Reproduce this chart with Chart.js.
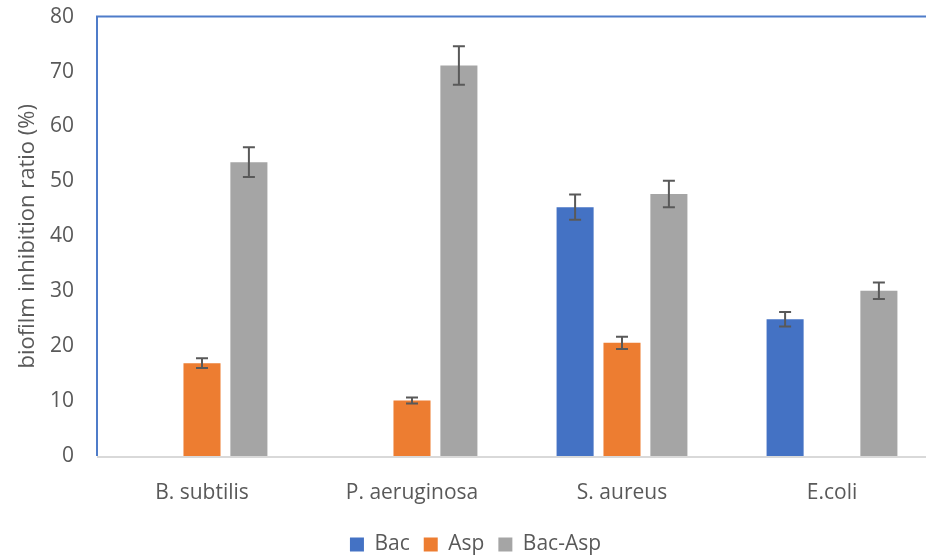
<!DOCTYPE html>
<html>
<head>
<meta charset="utf-8">
<script src="https://cdn.jsdelivr.net/npm/chart.js@4.4.0/dist/chart.umd.min.js"></script>
<style>
  html, body { margin: 0; padding: 0; background: #fff; overflow: hidden; }
  #wrap { width: 952px; height: 576px; margin-top: -11px; }
</style>
</head>
<body>
<div id="wrap"><canvas id="chart" width="952" height="576"></canvas></div>
<script>
// categories and series
const categories = ['B. subtilis', 'P. aeruginosa', 'S. aureus', 'E.coli'];
const bacValues = [0, 0, 45.3, 24.9];
const aspValues = [16.9, 10.1, 20.6, 0];
const bacAspValues = [53.5, 71.1, 47.7, 30.1];
// error bar half-widths
const bacErr = [0, 0, 2.3, 1.3];
const aspErr = [0.9, 0.55, 1.1, 0];
const bacAspErr = [2.7, 3.5, 2.4, 1.5];
const yTicks = [0, 10, 20, 30, 40, 50, 60, 70, 80];

const FONT = '"Open Sans", sans-serif';
const TEXT = '#595959';

// draws error bars on top of each bar
const errorBars = {
  id: 'errorBars',
  afterDatasetsDraw(chart) {
    const ctx = chart.ctx;
    const y = chart.scales.y;
    chart.data.datasets.forEach((ds, i) => {
      const meta = chart.getDatasetMeta(i);
      meta.data.forEach((bar, j) => {
        const e = ds.errors[j];
        if (!e) return;
        const v = ds.data[j];
        const top = y.getPixelForValue(v + e);
        const bot = y.getPixelForValue(v - e);
        ctx.save();
        ctx.strokeStyle = '#595959';
        ctx.lineWidth = 2;
        ctx.beginPath();
        ctx.moveTo(bar.x, top); ctx.lineTo(bar.x, bot);
        ctx.moveTo(bar.x - 6, top); ctx.lineTo(bar.x + 6, top);
        ctx.moveTo(bar.x - 6, bot); ctx.lineTo(bar.x + 6, bot);
        ctx.stroke();
        ctx.restore();
      });
    });
  }
};

// blue frame on top and left of plot area
const frame = {
  id: 'frame',
  beforeDatasetsDraw(chart) {
    const { ctx, chartArea: a } = chart;
    ctx.save();
    ctx.strokeStyle = '#4F7CC9';
    ctx.lineWidth = 2;
    ctx.beginPath();
    ctx.moveTo(a.left, a.bottom);
    ctx.lineTo(a.left, a.top);
    ctx.lineTo(a.right + 20, a.top);
    ctx.stroke();
    ctx.strokeStyle = '#D9D9D9';
    ctx.beginPath();
    ctx.moveTo(a.left, a.bottom + 1);
    ctx.lineTo(a.right + 20, a.bottom + 1);
    ctx.stroke();
    ctx.restore();
  }
};

new Chart(document.getElementById('chart'), {
  type: 'bar',
  data: {
    labels: categories,
    datasets: [
      { label: 'Bac', data: bacValues, errors: bacErr, backgroundColor: '#4472C4' },
      { label: 'Asp', data: aspValues, errors: aspErr, backgroundColor: '#ED7D31' },
      { label: 'Bac-Asp', data: bacAspValues, errors: bacAspErr, backgroundColor: '#A5A5A5' }
    ]
  },
  options: {
    responsive: false,
    animation: false,
    categoryPercentage: 0.67,
    barPercentage: 0.79,
    layout: { padding: { top: 0, right: 15, left: 14, bottom: 0 } },
    plugins: {
      tooltip: { enabled: false },
      legend: {
        position: 'bottom',
        labels: {
          boxWidth: 14, boxHeight: 14, padding: 14,
          color: TEXT, font: { family: FONT, size: 21 }
        }
      }
    },
    scales: {
      x: {
        grid: { display: false },
        border: { display: false },
        ticks: { color: TEXT, font: { family: FONT, size: 21 }, padding: 16 },
        afterFit(s) { s.height = 64; }
      },
      y: {
        min: 0, max: 80,
        afterBuildTicks(s) { s.ticks = yTicks.map(v => ({ value: v })); },
        grid: { display: false },
        border: { display: false },
        ticks: { color: TEXT, font: { family: FONT, size: 21 }, padding: 15 },
        title: {
          display: true, text: 'biofilm inhibition ratio (%)',
          color: TEXT, font: { family: FONT, size: 22, weight: 'normal' },
          padding: { top: 1, bottom: 0 }
        },
        afterFit(s) { s.width = 83; }
      }
    }
  },
  plugins: [frame, errorBars]
});
</script>
</body>
</html>
